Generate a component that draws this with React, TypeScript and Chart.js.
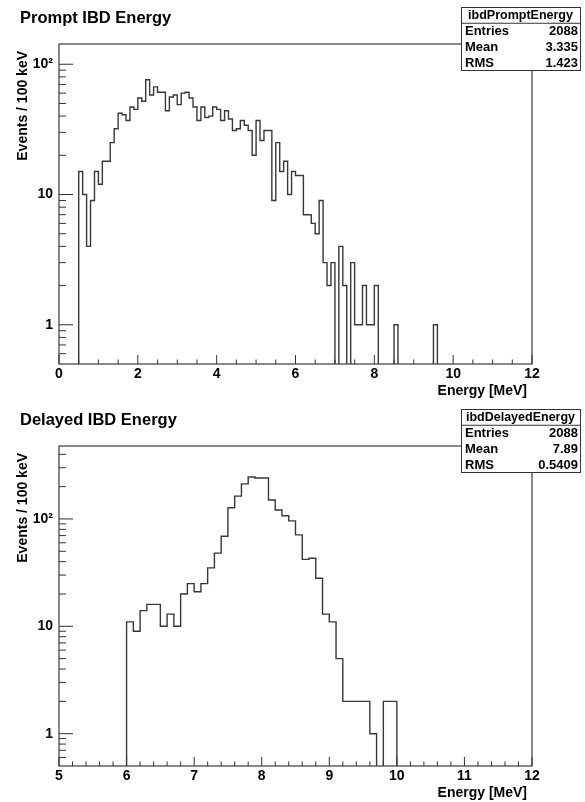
import React, { useEffect, useRef } from "react";
import { Chart, registerables } from "chart.js";

Chart.register(...registerables);

const BIN_WIDTH = 0.1;
const ZERO = 1e-3;

// ---------- Prompt IBD Energy ----------
const promptTitle = "Prompt IBD Energy";
const promptStatsName = "ibdPromptEnergy";
const promptStatsLabels = ["Entries", "Mean", "RMS"];
const promptStatsValues = ["2088", "3.335", "1.423"];
const promptXRange = [0, 12];
const promptYRange = [0.5, 143];
const promptXTicks = [0, 2, 4, 6, 8, 10, 12];
const promptXMinorStep = 0.5;
const promptFirstBin = 0.5;
const promptCounts = [
  15, 10, 4, 9, 15, 12, 18, 18, 25, 32,
  42, 41, 37, 47, 45, 55, 52, 76, 58, 67,
  61, 61, 44, 56, 58, 49, 60, 61, 55, 47,
  37, 47, 39, 40, 47, 45, 37, 44, 38, 31,
  32, 37, 34, 31, 20, 37, 26, 31, 31, 9,
  25, 15, 18, 10, 15, 14, 14, 7, 7, 6,
  5, 9, 3, 2, 3, 0, 4, 2, 0, 3,
  1, 1, 2, 1, 1, 2, 0, 0, 0, 0,
  1, 0, 0, 0, 0, 0, 0, 0, 0, 0,
  1,
];

// ---------- Delayed IBD Energy ----------
const delayedTitle = "Delayed IBD Energy";
const delayedStatsName = "ibdDelayedEnergy";
const delayedStatsLabels = ["Entries", "Mean", "RMS"];
const delayedStatsValues = ["2088", "7.89", "0.5409"];
const delayedXRange = [5, 12];
const delayedYRange = [0.5, 478];
const delayedXTicks = [5, 6, 7, 8, 9, 10, 11, 12];
const delayedXMinorStep = 0.2;
const delayedFirstBin = 6.0;
const delayedCounts = [
  11, 9, 14, 16, 16, 10, 13, 10, 20, 25,
  21, 25, 35, 48, 69, 127, 163, 212, 246, 241,
  241, 150, 121, 107, 96, 71, 42, 43, 28, 13,
  11, 5, 2, 2, 2, 2, 1, 0, 2, 2,
];

const yMajorTicks = [1, 10, 100];
const yTickLabels = ["1", "10", "10\u00B2"];
const xAxisTitle = "Energy [MeV]";
const yAxisTitle = "Events / 100 keV";

const FONT = '"Liberation Sans", Arial, Helvetica, sans-serif';

function histPoints(min: number, max: number, first: number, counts: number[]) {
  const n = Math.round((max - min) / BIN_WIDTH);
  const off = Math.round((first - min) / BIN_WIDTH);
  const pts: { x: number; y: number }[] = [];
  for (let i = 0; i < n; i++) {
    const c = counts[i - off];
    const v = c && c > 0 ? c : ZERO;
    pts.push({ x: +(min + i * BIN_WIDTH).toFixed(3), y: v });
  }
  pts.push({ x: max, y: ZERO });
  return pts;
}

function minorSteps(min: number, max: number, step: number, majors: number[]) {
  const out: number[] = [];
  const n = Math.round((max - min) / step);
  for (let i = 0; i <= n; i++) {
    const v = +(min + i * step).toFixed(3);
    if (!majors.some((m) => Math.abs(m - v) < 1e-6)) out.push(v);
  }
  return out;
}

function logMinors(min: number, max: number) {
  const out: number[] = [];
  for (let e = -1; e <= 3; e++) {
    for (let k = 2; k <= 9; k++) {
      const v = k * Math.pow(10, e);
      if (v >= min && v <= max) out.push(v);
    }
  }
  return out;
}

const rootPanelPlugin = {
  id: "rootPanel",
  afterDraw(chart: any, _args: any, o: any) {
    const { ctx, chartArea: a } = chart;
    const xs = chart.scales.x;
    const ys = chart.scales.y;
    ctx.save();
    // frame
    ctx.strokeStyle = "#3a3a3a";
    ctx.lineWidth = 1.2;
    ctx.strokeRect(a.left, a.top, a.right - a.left, a.bottom - a.top);
    // ticks
    ctx.lineWidth = 1;
    ctx.strokeStyle = "#333";
    ctx.beginPath();
    for (const v of o.yMinor) {
      const py = ys.getPixelForValue(v);
      if (py > a.top + 1 && py < a.bottom - 1) {
        ctx.moveTo(a.left, py);
        ctx.lineTo(a.left + 7, py);
      }
    }
    for (const v of o.yMajor) {
      const py = ys.getPixelForValue(v);
      ctx.moveTo(a.left, py);
      ctx.lineTo(a.left + 14, py);
    }
    for (const v of o.xMinor) {
      const px = xs.getPixelForValue(v);
      ctx.moveTo(px, a.bottom);
      ctx.lineTo(px, a.bottom - 4.5);
    }
    for (const v of o.xMajor) {
      const px = xs.getPixelForValue(v);
      ctx.moveTo(px, a.bottom);
      ctx.lineTo(px, a.bottom - 9);
    }
    ctx.stroke();

    // titles
    ctx.fillStyle = "#000";
    ctx.textBaseline = "alphabetic";
    ctx.textAlign = "left";
    ctx.font = `bold 16.5px ${FONT}`;
    ctx.fillText(o.title, 20, 23);

    ctx.font = `bold 14px ${FONT}`;
    ctx.textAlign = "right";
    ctx.fillText(o.xTitle, a.right - 5, 395);

    ctx.save();
    ctx.translate(27, 51);
    ctx.rotate(-Math.PI / 2);
    ctx.textAlign = "right";
    ctx.fillText(o.yTitle, 0, 0);
    ctx.restore();

    // stats box
    const bx = 461, by = 7, bw = 119, bh = 63;
    const rh = bh / 4;
    ctx.fillStyle = "#fff";
    ctx.fillRect(bx, by, bw, bh);
    ctx.strokeStyle = "#333";
    ctx.lineWidth = 1;
    ctx.strokeRect(bx + 0.5, by + 0.5, bw, bh);
    ctx.beginPath();
    ctx.moveTo(bx, by + rh + 0.5);
    ctx.lineTo(bx + bw, by + rh + 0.5);
    ctx.stroke();
    ctx.fillStyle = "#000";
    ctx.textBaseline = "middle";
    ctx.textAlign = "center";
    ctx.font = `bold 12.5px ${FONT}`;
    ctx.fillText(o.statsName, bx + bw / 2, by + rh / 2 + 1);
    ctx.font = `bold 13px ${FONT}`;
    o.statsLabels.forEach((lab: string, i: number) => {
      const ty = by + rh * (i + 1.5) + 1;
      ctx.textAlign = "left";
      ctx.fillText(lab, bx + 4, ty);
      ctx.textAlign = "right";
      ctx.fillText(o.statsValues[i], bx + bw - 2, ty);
    });
    ctx.restore();
  },
};

type PanelCfg = {
  height: number;
  title: string;
  statsName: string;
  statsLabels: string[];
  statsValues: string[];
  xRange: number[];
  yRange: number[];
  xTicks: number[];
  xMinorStep: number;
  firstBin: number;
  counts: number[];
};

function Panel({ cfg }: { cfg: PanelCfg }) {
  const ref = useRef<HTMLCanvasElement>(null);
  useEffect(() => {
    const font = { family: FONT, weight: "bold" as const, size: 14 };
    const chart = new Chart(ref.current!, {
      type: "line",
      data: {
        datasets: [
          {
            data: histPoints(cfg.xRange[0], cfg.xRange[1], cfg.firstBin, cfg.counts),
            stepped: "before",
            borderColor: "#383838",
            borderWidth: 1.4,
            pointRadius: 0,
            fill: false,
            tension: 0,
          },
        ],
      },
      options: {
        animation: false,
        responsive: false,
        maintainAspectRatio: false,
        devicePixelRatio: 1,
        events: [],
        layout: { padding: { left: 0, right: 53, top: 44, bottom: 0 } },
        plugins: {
          legend: { display: false },
          tooltip: { enabled: false },
          title: { display: false },
          rootPanel: {
            title: cfg.title,
            statsName: cfg.statsName,
            statsLabels: cfg.statsLabels,
            statsValues: cfg.statsValues,
            xTitle: xAxisTitle,
            yTitle: yAxisTitle,
            yMajor: yMajorTicks,
            yMinor: logMinors(cfg.yRange[0], cfg.yRange[1]),
            xMajor: cfg.xTicks,
            xMinor: minorSteps(cfg.xRange[0], cfg.xRange[1], cfg.xMinorStep, cfg.xTicks),
          },
        } as any,
        scales: {
          x: {
            type: "linear",
            min: cfg.xRange[0],
            max: cfg.xRange[1],
            afterFit: (s: any) => {
              s.height = cfg.height - 364;
            },
            afterBuildTicks: (s: any) => {
              s.ticks = cfg.xTicks.map((v) => ({ value: v }));
            },
            ticks: {
              autoSkip: false,
              maxRotation: 0,
              minRotation: 0,
              padding: 2,
              color: "#000",
              font,
              callback: (v: any) => String(v),
            },
            grid: { display: false, drawTicks: false },
            border: { display: false },
          },
          y: {
            type: "logarithmic",
            min: cfg.yRange[0],
            max: cfg.yRange[1],
            afterFit: (s: any) => {
              s.width = 59;
            },
            afterBuildTicks: (s: any) => {
              s.ticks = yMajorTicks.map((v) => ({ value: v }));
            },
            ticks: {
              padding: 6,
              color: "#000",
              font,
              callback: (_v: any, i: number) => yTickLabels[i],
            },
            grid: { display: false, drawTicks: false },
            border: { display: false },
          },
        },
      },
      plugins: [rootPanelPlugin as any],
    });
    return () => chart.destroy();
  }, [cfg]);
  return (
    <canvas
      ref={ref}
      width={585}
      height={cfg.height}
      style={{ display: "block", width: 585, height: cfg.height }}
    />
  );
}

const promptCfg: PanelCfg = {
  height: 402,
  title: promptTitle,
  statsName: promptStatsName,
  statsLabels: promptStatsLabels,
  statsValues: promptStatsValues,
  xRange: promptXRange,
  yRange: promptYRange,
  xTicks: promptXTicks,
  xMinorStep: promptXMinorStep,
  firstBin: promptFirstBin,
  counts: promptCounts,
};

const delayedCfg: PanelCfg = {
  height: 400,
  title: delayedTitle,
  statsName: delayedStatsName,
  statsLabels: delayedStatsLabels,
  statsValues: delayedStatsValues,
  xRange: delayedXRange,
  yRange: delayedYRange,
  xTicks: delayedXTicks,
  xMinorStep: delayedXMinorStep,
  firstBin: delayedFirstBin,
  counts: delayedCounts,
};

export default function App() {
  return (
    <div
      style={{
        position: "absolute",
        left: 0,
        top: 0,
        width: 585,
        height: 802,
        background: "#fff",
        overflow: "hidden",
      }}
    >
      <Panel cfg={promptCfg} />
      <Panel cfg={delayedCfg} />
    </div>
  );
}
